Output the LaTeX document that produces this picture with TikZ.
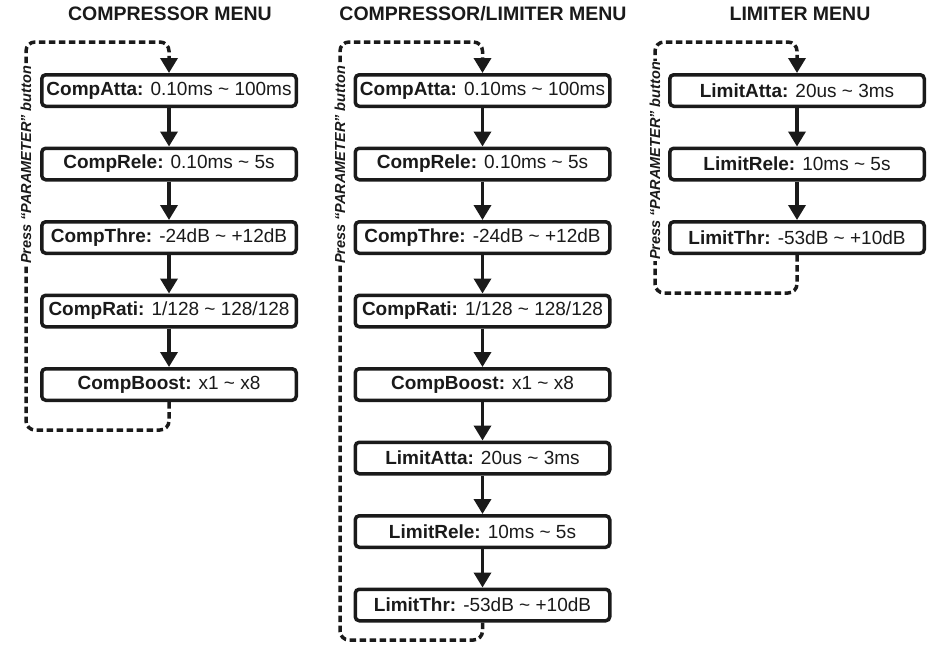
\documentclass[tikz,border=0pt]{standalone}
\usepackage{fontspec}
\setmainfont{Liberation Sans}
\usepackage{xcolor}
\definecolor{cInk}{HTML}{1A1A1A}
\usetikzlibrary{positioning,arrows.meta}
\tikzset{
  menu-title/.style={font=\bfseries\fontsize{19.5}{21}\selectfont,
    anchor=base,text=cInk},
  param-box/.style={draw=cInk,line width=3.5pt,rounded corners=4pt,fill=white,
    minimum width=254.5pt,minimum height=31.5pt,inner sep=0pt,text=cInk,
    font=\fontsize{19}{21}\selectfont},
  arrow/.style={-{Triangle[length=15pt,width=17pt]},line width=3.5pt,draw=cInk},
  arrow-loop/.style={arrow,dash pattern=on 6.5pt off 3.5pt,rounded corners=9pt},
  press-label/.style={rotate=90,fill=white,inner sep=1pt,text=cInk,
    font=\bfseries\itshape\fontsize{14.5}{16}\selectfont},
}

\begin{document}
\begin{tikzpicture}[x=1pt,y=-1pt,node distance=38.5pt]
  \useasboundingbox (0,0) rectangle (937,646);
  % titles
  \node[menu-title] (t1) at (170,20) {COMPRESSOR MENU};
  \node[menu-title] (t2) at (483,20) {COMPRESSOR/LIMITER MENU};
  \node[menu-title] (t3) at (800,20) {LIMITER MENU};

  % compressor menu
  \node[param-box]               (catt1) at (169,90.5) {\textbf{CompAtta:} 0.10ms \textasciitilde{} 100ms};
  \node[param-box,below=of catt1] (crel1) {\textbf{CompRele:} 0.10ms \textasciitilde{} 5s};
  \node[param-box,below=of crel1] (cthr1) {\textbf{CompThre:} -24dB \textasciitilde{} +12dB};
  \node[param-box,below=of cthr1] (crat1) {\textbf{CompRati:} 1/128 \textasciitilde{} 128/128};
  \node[param-box,below=of crat1] (cbst1) {\textbf{CompBoost:} x1 \textasciitilde{} x8};
  \draw[arrow] (catt1) -- (crel1);
  \draw[arrow] (crel1) -- (cthr1);
  \draw[arrow] (cthr1) -- (crat1);
  \draw[arrow] (crat1) -- (cbst1);
  \coordinate (lp1b) at (26,430);
  \coordinate (lp1t) at (26,42);
  \draw[arrow-loop] (cbst1.south) |- (lp1b) -- (lp1t) -| (catt1.north);
  \node[press-label] (pp1) at (26,165) {Press “PARAMETER” button};

  % compressor/limiter menu
  \node[param-box]               (catt2) at (482.5,90.5) {\textbf{CompAtta:} 0.10ms \textasciitilde{} 100ms};
  \node[param-box,below=of catt2] (crel2) {\textbf{CompRele:} 0.10ms \textasciitilde{} 5s};
  \node[param-box,below=of crel2] (cthr2) {\textbf{CompThre:} -24dB \textasciitilde{} +12dB};
  \node[param-box,below=of cthr2] (crat2) {\textbf{CompRati:} 1/128 \textasciitilde{} 128/128};
  \node[param-box,below=of crat2] (cbst2) {\textbf{CompBoost:} x1 \textasciitilde{} x8};
  \node[param-box,below=of cbst2] (latt2) {\textbf{LimitAtta:} 20us \textasciitilde{} 3ms};
  \node[param-box,below=of latt2] (lrel2) {\textbf{LimitRele:} 10ms \textasciitilde{} 5s};
  \node[param-box,below=of lrel2] (lthr2) {\textbf{LimitThr:} -53dB \textasciitilde{} +10dB};
  \draw[arrow] (catt2) -- (crel2);
  \draw[arrow] (crel2) -- (cthr2);
  \draw[arrow] (cthr2) -- (crat2);
  \draw[arrow] (crat2) -- (cbst2);
  \draw[arrow] (cbst2) -- (latt2);
  \draw[arrow] (latt2) -- (lrel2);
  \draw[arrow] (lrel2) -- (lthr2);
  \coordinate (lp2b) at (340,640);
  \coordinate (lp2t) at (340,42);
  \draw[arrow-loop] (lthr2.south) |- (lp2b) -- (lp2t) -| (catt2.north);
  \node[press-label] (pp2) at (340,165) {Press “PARAMETER” button};

  % limiter menu
  \node[param-box]               (latt3) at (797,90.5) {\textbf{LimitAtta:} 20us \textasciitilde{} 3ms};
  \node[param-box,below=of latt3] (lrel3) {\textbf{LimitRele:} 10ms \textasciitilde{} 5s};
  \node[param-box,below=of lrel3] (lthr3) {\textbf{LimitThr:} -53dB \textasciitilde{} +10dB};
  \draw[arrow] (latt3) -- (lrel3);
  \draw[arrow] (lrel3) -- (lthr3);
  \coordinate (lp3b) at (655,293);
  \coordinate (lp3t) at (655,42);
  \draw[arrow-loop] (lthr3.south) |- (lp3b) -- (lp3t) -| (latt3.north);
  \node[press-label] (pp3) at (655,161) {Press “PARAMETER” button};
\end{tikzpicture}
\end{document}
